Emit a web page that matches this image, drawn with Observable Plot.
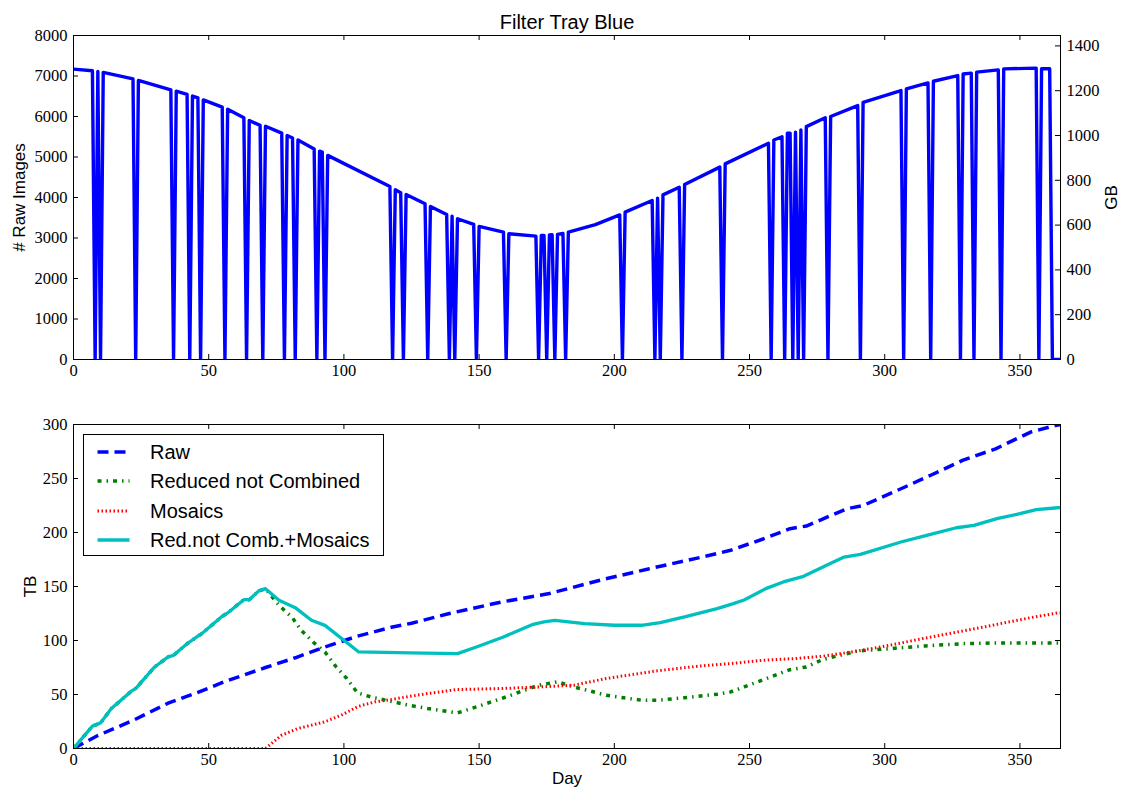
<!DOCTYPE html>
<html>
<head>
<meta charset="utf-8">
<script src="https://cdn.jsdelivr.net/npm/d3@7"></script>
<script src="https://cdn.jsdelivr.net/npm/@observablehq/plot@0.6"></script>
<style>
  html, body { margin: 0; padding: 0; background: #fff; }
  #wrap { position: relative; width: 1130px; height: 800px; overflow: hidden; background: #fff; }
  #wrap svg { display: block; }
  #legend { position: absolute; left: 83px; top: 434px; width: 301px; height: 122px; box-sizing: border-box;
            border: 1px solid #000; background: #fff; font-family: "Liberation Sans", Arial, sans-serif; font-size: 20px; color: #000; }
  #legend .row { position: absolute; left: 0; height: 24px; }
  #legend .row svg { position: absolute; left: 12px; top: 7px; }
  #legend .row span { position: absolute; left: 66px; top: 0; line-height: 24px; white-space: nowrap; }
</style>
</head>
<body>
<div id="wrap"></div>
<script>
// ---------- data ----------
const xTicks = [0, 50, 100, 150, 200, 250, 300, 350];
const imageTicks = [0, 1000, 2000, 3000, 4000, 5000, 6000, 7000, 8000];
const gbTicks = [0, 200, 400, 600, 800, 1000, 1200, 1400];
const gbPerImage = 0.1808;
const tbTicks = [0, 50, 100, 150, 200, 250, 300];

// [day, raw images] — daily image count, dropping to zero on lost nights
const rawImages = [
  [0,7170],[7,7130],[8,0],[9,7110],[10,0],[11,7090],[22,6930],[23,0],[24,6890],[36,6660],[37,0],[38,6625],
  [42,6545],[43,0],[44,6505],[46,6460],[47,0],[48,6410],[55,6230],[56,0],[57,6180],[63,5970],[64,0],[65,5900],
  [69,5780],[70,0],[71,5760],[77,5590],[78,0],[79,5530],[81,5470],[82,0],[83,5420],[89,5200],[90,0],[91,5145],
  [92,5120],[93,0],[94,5040],[117,4270],[118,0],[119,4190],[121,4115],[122,0],[123,4075],[130,3845],[131,0],
  [132,3780],[138,3580],[139,0],[140,3540],[141,0],[142,3475],[148,3335],[149,0],[150,3285],[159,3145],[160,0],
  [161,3105],[171,3045],[172,0],[173,3060],[174,3065],[175,0],[176,3075],[177,3080],[178,0],[179,3090],[181,3110],
  [182,0],[183,3145],[193,3330],[202,3570],[203,0],[204,3640],[214,3925],[215,0],[216,3985],[217,0],[218,4065],
  [224,4255],[225,0],[226,4320],[239,4750],[240,0],[241,4830],[257,5340],[258,0],[259,5420],[262,5500],[263,0],
  [264,5585],[265,5590],[266,0],[267,5610],[268,0],[269,5670],[270,0],[271,5750],[278,5970],[279,0],[280,6000],
  [290,6270],[291,0],[292,6350],[306,6640],[307,0],[308,6680],[316,6830],[317,0],[318,6870],[327,7010],[328,0],
  [329,7050],[332,7070],[333,0],[334,7095],[342,7150],[343,0],[344,7175],[356,7195],[357,0],[358,7180],[361,7180],
  [362,0],[365,0]
];

// [day, TB] cumulative storage
const rawTB = [
  [0,0],[9,12],[22,26],[35,42],[46,52],[56,62],[71,75],[82,84],[93,94],[105,104],[118,112.5],[125,116],[139,125],
  [158,135.5],[176,143.5],[195,156],[213,166.5],[232,177],[243,183.5],[255,194],[265,203.5],[271,206],[286,222],
  [292,225],[306,240.5],[317,253],[329,267],[341,277.5],[354,293],[363,299],[365,300]
];
const reducedTB = [
  [0,0],[7,20.7],[10,23.7],[14,37],[21.5,53.3],[23,55.5],[30,75.5],[35,84.8],[37,86.3],[42,97],[46,104],[47.5,106.4],
  [55,122.4],[57,125.5],[63,137.8],[65,137.8],[68.5,145.9],[71,148],[76,132.6],[81,121],[84,110],[89,97.7],[93,89.4],
  [97,76],[101,65],[105,51.5],[111,47],[117,44],[124,40],[131,37],[142,33],[149,38.5],[160,47.8],[166,53.3],
  [172,58.6],[179,61.7],[185,57],[191,53.3],[197,49.3],[210,44.7],[216,44.7],[226,47],[238,50.3],[243,52.4],
  [248,57],[253,61.7],[265,73],[271,75.5],[277,82.3],[290,90.3],[302,92.5],[315,95],[329,97.1],[341,97.7],[365,97.7]
];
const mosaicsTB = [
  [0,0],[71,0],[77,12.3],[83,18.5],[88,21.6],[93,24.7],[99,30.8],[105.5,39.2],[111.5,43.2],[117.5,45.3],[124.5,48.4],
  [131,50.9],[142,54.6],[158,55.5],[172.5,57],[185,58.6],[197,64.8],[215.5,71.8],[232,76.5],[243,78.6],[255,81.7],
  [267,83.3],[277,85.4],[290,90.3],[302,95.6],[314,101.8],[329,108.8],[341,114.7],[354,121.2],[364,125.5],[365,125.5]
];
const combinedTB = [
  [0,0],[7,20.7],[10,23.7],[14,37],[21.5,53.3],[23,55.5],[30,75.5],[35,84.8],[37,86.3],[42,97],[46,104],[47.5,106.4],
  [55,122.4],[57,125.5],[63,137.8],[65,137.8],[68.5,145.9],[71,148],[76,137.2],[82,130.4],[88,118.7],[93,114],
  [105.5,89.4],[124.5,88.5],[142,87.9],[149,94],[159,103.3],[170,115],[174,117.2],[178,118.7],[189,115.6],[200,114.1],
  [210,114.1],[217,116.6],[226,121.8],[238,129.5],[244,134.1],[248,137.5],[256,148],[262.5,154.2],[270,159.4],
  [278.5,169.6],[285,177.3],[291,179.8],[306,191.2],[315.5,197.3],[326.5,204.4],[333,206.6],[341.5,212.8],[350,217.4],
  [356,221.1],[364,222.9],[365,223]
];

const seriesNames = ["Raw", "Reduced not Combined", "Mosaics", "Red.not Comb.+Mosaics"];
const seriesData = [rawTB, reducedTB, mosaicsTB, combinedTB];
const seriesColors = ["#0000ff", "#008000", "#ff0000", "#00bfbf"];
const seriesDash = ["11,6", "4,5,1.5,5", "1.5,2.5", null];
const seriesWidth = [3.5, 3.5, 3, 3.3];

// ---------- layout / style ----------
const W = 1130, mL = 73, mR = 70;
const FW = W - mL - mR, FH = 324, T = 5;
const tickFS = 16.5;
const serif = "'Liberation Serif', 'Times New Roman', Times, serif";
const sans = "'Liberation Sans', Arial, Helvetica, sans-serif";

function frameTicks(yTicksLeft, yTicksRight) {
  return [
    Plot.tickX(xTicks, {x: d => d, insetTop: FH - T, stroke: "#000"}),
    Plot.tickX(xTicks, {x: d => d, insetBottom: FH - T, stroke: "#000"}),
    Plot.tickY(yTicksLeft, {y: d => d, insetRight: FW - T, stroke: "#000"}),
    Plot.tickY(yTicksRight, {y: d => d, insetLeft: FW - T, stroke: "#000"}),
    Plot.frame({stroke: "#000", strokeWidth: 1}),
    Plot.text(xTicks, {x: d => d, text: d => String(d), frameAnchor: "bottom", dy: 5, lineAnchor: "top",
      textAnchor: "middle", fontSize: tickFS, fill: "#000"})
  ];
}
function leftLabels(ticks, fmt) {
  return Plot.text(ticks, {y: d => d, text: fmt, frameAnchor: "left", dx: -6, textAnchor: "end", lineAnchor: "middle",
    fontSize: tickFS, fill: "#000"});
}

const topPos = gbTicks.map(g => g / gbPerImage);
const topPlot = Plot.plot({
  width: W, height: 395, marginTop: 35, marginBottom: 36, marginLeft: mL, marginRight: mR,
  x: {domain: [0, 365], axis: null},
  y: {domain: [0, 8000], axis: null},
  style: {background: "transparent", overflow: "visible", fontSize: "17px", color: "#000"},
  marks: [
    Plot.line(rawImages, {x: d => d[0], y: d => d[1], stroke: "#0000ff", strokeWidth: 3.4, strokeLinejoin: "round", clip: true}),
    ...frameTicks(imageTicks, topPos),
    leftLabels(imageTicks, d => String(d)),
    Plot.text(topPos, {y: d => d, text: d => String(Math.round(d * gbPerImage)), frameAnchor: "right", dx: 6,
      textAnchor: "start", lineAnchor: "middle", fontSize: tickFS, fill: "#000"}),
    Plot.text(["Filter Tray Blue"], {text: d => d, frameAnchor: "top", dy: -13, lineAnchor: "middle", textAnchor: "middle", fontSize: 20}),
    Plot.text(["# Raw Images"], {text: d => d, frameAnchor: "left", dx: -54, rotate: -90, lineAnchor: "middle", textAnchor: "middle", fontSize: 17}),
    Plot.text(["GB"], {text: d => d, frameAnchor: "right", dx: 51, rotate: -90, lineAnchor: "middle", textAnchor: "middle", fontSize: 17})
  ]
});

const botPlot = Plot.plot({
  width: W, height: 405, marginTop: 29, marginBottom: 52, marginLeft: mL, marginRight: mR,
  x: {domain: [0, 365], axis: null},
  y: {domain: [0, 300], axis: null},
  style: {background: "transparent", overflow: "visible", fontSize: "17px", color: "#000"},
  marks: [
    ...seriesData.map((s, i) => Plot.line(s, {x: d => d[0], y: d => d[1], stroke: seriesColors[i],
      strokeWidth: seriesWidth[i], strokeDasharray: seriesDash[i], strokeLinecap: "butt", strokeLinejoin: "round", clip: true})),
    ...frameTicks(tbTicks, tbTicks),
    leftLabels(tbTicks, d => String(d)),
    Plot.text(["TB"], {text: d => d, frameAnchor: "left", dx: -43, rotate: -90, lineAnchor: "middle", textAnchor: "middle", fontSize: 17}),
    Plot.text(["Day"], {text: d => d, frameAnchor: "bottom", dy: 30, lineAnchor: "middle", textAnchor: "middle", fontSize: 17})
  ]
});

const wrap = document.getElementById("wrap");
wrap.appendChild(topPlot);
wrap.appendChild(botPlot);

// fonts: numeric tick labels in serif, word labels in sans (inline styles on each text node)
d3.select(wrap).selectAll("svg text").each(function() {
  const isNumber = /^\d+$/.test(this.textContent.trim());
  this.style.setProperty("font-family", isNumber ? serif : sans, "important");
  if (isNumber) this.style.setProperty("font-size", tickFS + "px", "important");
});

// legend
const legend = document.createElement("div");
legend.id = "legend";
seriesNames.forEach((name, i) => {
  const row = document.createElement("div");
  row.className = "row";
  row.style.top = (5 + i * 29.3) + "px";
  row.style.width = "100%";
  const dash = seriesDash[i] ? `stroke-dasharray="${seriesDash[i]}"` : "";
  row.innerHTML = `<svg width="36" height="10"><line x1="1.5" x2="33.5" y1="5" y2="5" stroke="${seriesColors[i]}" stroke-width="${seriesWidth[i]}" ${dash} stroke-linecap="butt"/></svg><span>${name}</span>`;
  legend.appendChild(row);
});
wrap.appendChild(legend);
</script>
</body>
</html>
